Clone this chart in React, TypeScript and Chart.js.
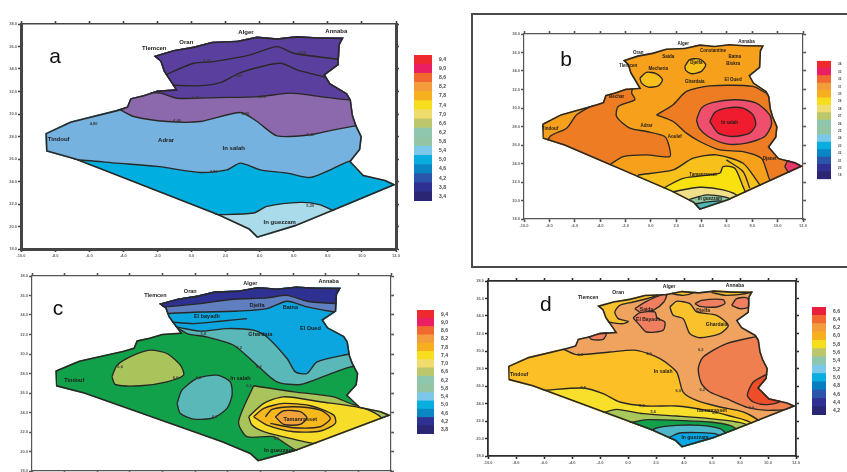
import React, { useEffect, useRef } from "react";
import { Chart, registerables } from "chart.js";

Chart.register(...registerables);

type Pt = [number, number];
type Lbl = [string, number, number];

// ---- shared axes
const lonMin = -10, lonMax = 12, latMin = 18, latMax = 38;

// ---- country outline (lon, lat)
const outline: Pt[] = [
  [-2.22, 35.16], [-1.04, 35.69], [0.13, 35.99], [1.21, 36.43], [2.67, 36.52], [3.85, 36.88], [5.02, 36.73],
  [6.19, 36.93], [7.37, 36.82], [8.93, 36.79], [8.7, 36.14], [8.64, 34.36], [7.85, 33.47], [8.15, 32.73],
  [9.13, 31.85], [9.36, 31.25], [9.48, 29.92], [9.67, 29.04], [10, 28], [9.91, 26.82], [9.36, 25.78],
  [10.1, 24.6], [11.37, 24.15], [12, 23.71], [8.34, 21.4], [6.09, 20.01], [3.85, 18.98], [3.36, 19.72],
  [1.6, 20.96], [-6.81, 25.93], [-8.53, 26.67], [-8.57, 28.3], [-7.11, 29.33], [-4.37, 30.37], [-3.78, 30.66],
  [-3.59, 31.4], [-2.8, 31.7], [-2.02, 32.08], [-0.95, 32.2], [-1.63, 33.77], [-1.83, 34.66], [-2.22, 35.16],
];

// ---- palette
const scale16 = ["#ee2a2e", "#e91e63", "#f2692f", "#f39c3c", "#f6b01f", "#f6de1e", "#f0dc6e", "#bcc76c", "#8fc6ae", "#93c5a5", "#7cc8ea", "#08aee0", "#0a86c4", "#2a55a8", "#2e3192", "#2b2673"];
const scale15 = ["#ee2a2e", "#e91e63", "#f2692f", "#f39c3c", "#f6b01f", "#f6de1e", "#f0dc6e", "#bcc76c", "#8fc6ae", "#93c5a5", "#7cc8ea", "#08aee0", "#0a86c4", "#2e3192", "#2b2673"];
const scale13 = ["#e8203c", "#f2692f", "#f39c3c", "#f6b01f", "#f6de1e", "#bcc76c", "#8fc6ae", "#7cc8ea", "#08aee0", "#0a7cc0", "#2a55a8", "#2e3192", "#2b2673"];

// ---- colour-bar tick labels
const barLabelsA = ["9,4", "9,0", "8,6", "8,2", "7,8", "7,4", "7,0", "6,6", "6,2", "5,8", "5,4", "5,0", "4,6", "4,2", "3,8", "3,4"];
const barLabelsB = ["34", "33", "32", "31", "30", "29", "28", "27", "26", "25", "24", "23", "22", "21", "20", "19"];
const barLabelsC = ["9,4", "9,0", "8,6", "8,2", "7,8", "7,4", "7,0", "6,6", "6,2", "5,8", "5,4", "5,0", "4,6", "4,2", "3,8"];
const barLabelsD = ["6,6", "6,4", "6,2", "6,0", "5,8", "5,6", "5,4", "5,2", "5,0", "4,8", "4,6", "4,4", "4,2"];

// ---- panel a contours
const aLight: Pt[] = [[-10, 25.93], [-6.81, 25.93], [-4.37, 25.63], [-2.02, 25.34], [0.52, 24.8], [2.09, 25.04], [2.87, 25.63], [4.04, 25.04], [5.61, 24.75], [6.97, 24.36], [8.15, 25.04], [9.36, 25.84], [12, 25.84], [12, 38], [-10, 38]];
const aPurple: Pt[] = [[-5, 31], [-4.17, 30.37], [-3.39, 29.78], [-1.43, 29.33], [0.52, 29.33], [2.87, 30.13], [3.85, 29.33], [5.02, 28.06], [6.97, 28.15], [8.34, 28.59], [9.71, 28.95], [12, 28.95], [12, 38], [-5, 38]];
const aDeep: Pt[] = [[-4, 32], [-1.83, 31.85], [-0.85, 31.4], [1.5, 31.46], [4.04, 31.55], [5.8, 31.85], [7.56, 31.55], [9.36, 31.25], [12, 31.25], [12, 38], [-4, 38]];
const aPale: Pt[] = [[0, 21.05], [1.6, 21.05], [3.65, 21.2], [4.43, 21.79], [6.39, 22.14], [7.56, 21.93], [8.34, 21.4], [10, 20.5], [10, 18], [0, 18]];
const aLine1: Pt[] = [[-1.53, 33.47], [0.13, 34.51], [1.3, 34.66], [3.45, 35.25], [5.02, 35.99], [6, 35.4], [8.64, 34.86]];
const aLine2: Pt[] = [[-1.53, 32.59], [0.33, 32.5], [1.69, 32.79], [2.87, 33.68], [5.21, 34.51], [6.19, 33.92], [7.85, 33.27]];
const aLabels: Lbl[] = [["Tlemcen", -2.18, 35.81], ["Oran", -0.3, 36.34], ["Alger", 3.2, 37.23], ["Annaba", 8.5, 37.35], ["Tindouf", -7.79, 27.79], ["Adrar", -1.49, 27.7], ["In salah", 2.48, 26.96], ["In guezzam", 5.18, 20.34]];
const aValues: Lbl[] = [["3,20", 0.91, 34.75], ["3,60", 2.77, 33.41], ["3,60", 6.49, 35.4], ["4,00", 0.23, 31.4], ["4,00", 4.14, 31.55], ["4,40", -0.85, 29.42], ["4,40", 3.16, 30.01], ["4,40", 6.97, 28.18], ["4,80", -5.74, 29.12], ["4,80", 1.3, 24.89], ["5,20", 6.97, 21.85]];

// ---- panel b contours
const bWest: Pt[] = [[-1.52, 31.61], [-1.26, 30.89], [-2.57, 30.17], [-2.7, 29.08], [-1.65, 27.82], [-0.34, 27.46], [1.1, 26.92], [1.45, 25.83], [1.5, 24.75], [-0.34, 24.93], [-2.18, 24.75], [-3.23, 23.85], [-5, 22], [-8.2, 25.5], [-7.95, 26.92], [-6.64, 27.82], [-5.85, 29.26], [-4.54, 30.35], [-3.75, 31.25], [-3.23, 31.9], [-1.5, 32.2]];
const bEast: Pt[] = [[0.45, 29.26], [1.76, 30.35], [2.81, 31.79], [4.65, 32.4], [8.06, 32.33], [9.37, 31.43], [12, 31], [12, 23], [9.51, 22.04], [9.11, 23.31], [8.72, 24.57], [7.27, 25.29], [5.44, 25.47], [3.86, 26.38], [2.81, 27.28], [1.76, 28.54]];
const bGold: Pt[] = [[-1, 22.77], [1.76, 23.31], [3.34, 24.57], [5.17, 24.93], [7.27, 24.03], [8.32, 22.22], [8.72, 21.32], [9, 18], [0, 18], [-1, 20]];
const bYellow: Pt[] = [[0.97, 21.32], [2.55, 22.4], [5.44, 22.95], [5.7, 23.67], [6.62, 23.49], [7.27, 21.5], [7.54, 20.6], [8, 18], [1, 18]];
const bPale: Pt[] = [[1.76, 20.96], [3.86, 21.43], [5.7, 21.14], [6.88, 20.42], [7, 18], [2, 18]];
const bSage: Pt[] = [[3.07, 20.13], [4.39, 20.6], [5.7, 20.42], [6.36, 20.06], [6.4, 18], [3, 18]];
const bTeal: Pt[] = [[3.47, 19.62], [4.65, 19.88], [5.7, 19.88], [6, 18], [3.4, 18]];
const bPink: Pt[] = [[3.6, 28.72], [3.99, 29.99], [4.91, 30.6], [6.62, 30.89], [8.32, 30.53], [9.37, 29.26], [9.51, 28.18], [8.98, 26.92], [7.54, 26.2], [5.96, 26.12], [4.52, 26.92], [3.81, 27.82]];
const bRed: Pt[] = [[4.65, 28.54], [5.04, 29.52], [5.96, 29.99], [7.27, 29.99], [8.06, 29.26], [8.27, 28.18], [7.8, 27.28], [6.49, 26.92], [5.31, 27.28]];
const bTip: Pt[] = [[10.56, 23.67], [10.82, 24.32], [12, 24.5], [12, 23.7], [10.95, 22.95]];
const bCircle1: Pt[] = [[-0.86, 33.23], [-0.34, 33.85], [0.45, 33.7], [0.92, 33.05], [0.58, 32.4], [-0.21, 32.26], [-0.73, 32.69]];
const bCircle2: Pt[] = [[2.68, 34.5], [3.07, 35.22], [3.86, 35.29], [4.33, 34.68], [3.99, 33.96], [3.21, 33.7], [2.76, 34.07]];
const bLine: Pt[] = [[5.96, 24.39], [7.27, 23.13], [7.8, 21.32]];
const bLabels: Lbl[] = [["Alger", 2.55, 36.95], ["Annaba", 7.54, 37.13], ["Oran", -1, 35.94], ["Tlemcen", -1.78, 34.57], ["Saida", 1.37, 35.58], ["Mecheria", 0.58, 34.21], ["Djelfa", 3.6, 34.93], ["Constantine", 4.91, 36.23], ["Batna", 6.62, 35.58], ["Biskra", 6.49, 34.75], ["Ghardaia", 3.47, 32.87], ["El Oued", 6.49, 33.05], ["Bechar", -2.7, 31.25], ["Tindouf", -7.95, 27.71], ["Adrar", -0.34, 28.07], ["Aoulef", 1.89, 26.84], ["In salah", 6.22, 28.36], ["Tamanrasset", 4.12, 22.77], ["Djanet", 9.37, 24.5], ["In guezzam", 4.65, 20.17]];
const bValues: Lbl[] = [];

// ---- panel c contours
const cTealBand: Pt[] = [[-3, 33], [-1.22, 32.78], [-0.5, 32.1], [0.72, 31.75], [2.36, 30.9], [3.79, 28.85], [5.01, 27.15], [6.44, 26.87], [8.08, 27.83], [9.3, 28.58], [10.02, 28.79], [12, 28.8], [12, 38], [-3, 38]];
const cCyanBand: Pt[] = [[-3, 33], [-1.22, 32.78], [0.32, 32.34], [1.95, 32.61], [3.58, 32.44], [4.4, 31.75], [5.63, 29.54], [6.14, 28.17], [6.85, 28], [7.47, 29.19], [9.3, 29.95], [10.02, 30.15], [12, 30.15], [12, 38], [-3, 38]];
const cSlateBand: Pt[] = [[-3, 34.14], [-1.83, 34.14], [0.32, 34.31], [2.36, 34.38], [4.4, 34.66], [5.63, 35.41], [6.85, 34.83], [8.59, 34.31], [10, 34.31], [10, 38], [-3, 38]];
const cNavyBand: Pt[] = [[-3, 34.83], [-1.93, 34.83], [0.32, 35.17], [2.36, 35.62], [4.4, 35.75], [5.63, 36.02], [6.85, 35.41], [8.59, 35.17], [10, 35.17], [10, 38], [-3, 38]];
const cOliveLobe: Pt[] = [[-5.1, 27.66], [-4.79, 28.85], [-3.77, 29.88], [-2.75, 30.39], [-1.73, 30.05], [-0.91, 28.85], [-0.71, 27.83], [-1.73, 27.15], [-3.36, 26.74], [-4.89, 26.87]];
const cTealLobe: Pt[] = [[-1.11, 24.93], [-0.81, 26.29], [0.11, 27.49], [1.34, 27.83], [2.15, 27.15], [2.26, 25.78], [1.95, 24.42], [1.13, 23.46], [-0.09, 23.32], [-0.91, 23.9]];
const cOliveEast: Pt[] = [[3.58, 26.74], [6.04, 26.12], [8.49, 25.61], [9.81, 24.76], [12, 24.76], [12, 23.7], [6.55, 19.98], [4.81, 21.52], [3.18, 21.52], [2.66, 23.05]];
const cYellow: Pt[] = [[3.28, 23.56], [4.2, 24.93], [5.42, 25.61], [7.67, 25.1], [10.32, 24.42], [11.35, 23.56], [11.5, 22.5], [7.57, 20.83], [5.83, 21.34], [4.2, 22.03], [3.48, 22.71]];
const cGold: Pt[] = [[3.58, 23.56], [4.2, 24.42], [5.42, 24.93], [7.06, 24.69], [8.49, 23.73], [8.59, 22.88], [7.67, 22.1], [6.04, 22.03], [4.4, 22.71]];
const cCore: Pt[] = [[4.91, 23.56], [5.42, 24.18], [6.44, 24.08], [6.85, 23.46], [6.44, 22.78], [5.42, 22.78]];
const cRing: Pt[] = [[4.3, 23.56], [4.71, 24.31], [6.04, 24.59], [7.67, 24.25], [8.28, 23.39], [7.67, 22.54], [6.04, 22.44], [4.61, 22.88]];
const cLine: Pt[] = [[-1.52, 33.29], [-0.09, 33.12], [1.54, 33.36], [3.18, 33.63]];
const cLabels: Lbl[] = [["Tlemcen", -2.44, 36.02], ["Oran", -0.3, 36.46], ["Alger", 3.38, 37.28], ["Annaba", 8.18, 37.39], ["El bayadh", 0.72, 33.87], ["Djelfa", 3.79, 35], ["Batna", 5.83, 34.76], ["Ghardaia", 3.99, 31.99], ["El Oued", 7.06, 32.61], ["Tindouf", -7.41, 27.25], ["In salah", 2.77, 27.49], ["Tamanrasset", 6.44, 23.29], ["In guezzam", 5.12, 20.08]];
const cValues: Lbl[] = [["5,8", 0.5, 32.1], ["6,2", 2.7, 30.6], ["6,2", 3.9, 28.7], ["6,6", -4.6, 28.7], ["6,6", -1.2, 27.5], ["6,2", 0.2, 27.6], ["6,2", 1.2, 23.6], ["6,6", 3.3, 26.7], ["6,6", 5, 21.3]];

// ---- panel d contours
const dGoldBig: Pt[] = [[-10, 30.34], [-4.88, 30.34], [-3.68, 29.58], [-1.3, 29.89], [0.61, 30.08], [2.28, 29.12], [3.47, 27.6], [3.94, 25.31], [4.9, 24.36], [6.57, 23.6], [8.23, 23.03], [9.54, 21.58], [9, 18], [-10, 18]];
const dYellow: Pt[] = [[-8, 25.5], [-6.19, 25.5], [-3.21, 25.77], [-1.78, 25.12], [-0.59, 24.17], [1.32, 23.71], [3.47, 23.71], [5.61, 23.22], [7.28, 22.57], [8.95, 21.58], [9, 18], [-8, 18]];
const dOlive: Pt[] = [[-3, 23.2], [-1.9, 22.95], [-0.82, 23.33], [1.08, 22.84], [3.47, 22.57], [5.85, 22.27], [7.76, 21.89], [8.59, 21.43], [9, 18], [-3, 18]];
const dGreen: Pt[] = [[-1, 21.7], [0.13, 21.81], [1.32, 22.15], [3.47, 22.08], [5.85, 21.89], [7.28, 21.5], [7.88, 20.82], [8, 18], [-1, 18]];
const dTeal: Pt[] = [[1.44, 20.67], [2.04, 21.2], [3.47, 21.5], [5.14, 21.5], [6.57, 21.12], [7.04, 20.44], [7, 18], [1.4, 18]];
const dCyan: Pt[] = [[2.99, 20.17], [3.71, 20.63], [5.14, 20.67], [6.21, 20.55], [6.8, 19.98], [6.8, 18], [3, 18]];
const dCoral: Pt[] = [[9.31, 31.71], [7.04, 30.84], [5.37, 29.31], [5.02, 27.98], [5.25, 26.27], [5.85, 25.31], [7.04, 24.55], [8.59, 23.52], [10.14, 23.22], [11.93, 23.71], [12, 32]];
const dRed: Pt[] = [[9.85, 27.3], [8.95, 26.46], [8.52, 24.93], [8.95, 24.17], [9.9, 23.87], [10.86, 24.25], [9.9, 25.5], [10.5, 27.3]];
const dGoldNW: Pt[] = [[-3, 36], [-1, 37], [2, 37.2], [2.04, 36.36], [0.37, 35.6], [-0.59, 35.22], [-0.94, 34.46], [-0.7, 33.7], [0.01, 33.39], [-0.35, 33.12], [-1.54, 33.31], [-3, 33.3]];
const dGoldMid: Pt[] = [[2.99, 35.03], [3.47, 35.68], [4.42, 35.41], [4.9, 34.46], [6.33, 34.08], [7.16, 32.93], [6.57, 31.98], [5.14, 31.52], [4.42, 31.98], [3.94, 33.7], [3.23, 34.08]];
const dStrip1: Pt[] = [[3.11, 36.55], [3.5, 37.2], [5.02, 37.2], [4.78, 36.74], [3.94, 36.36]];
const dStrip2: Pt[] = [[5.97, 36.67], [6.3, 37.2], [9.1, 37.2], [8.71, 36.67], [7.04, 36.36]];
const dBlob1: Pt[] = [[0.49, 34.84], [1.32, 35.68], [2.75, 36.55], [2.56, 35.6], [1.8, 34.65], [0.96, 34.38]];
const dBlob2: Pt[] = [[0.37, 33.77], [0.85, 34.38], [1.92, 34.46], [2.08, 33.77], [2.63, 33.31], [2.51, 32.36], [1.32, 32.17], [0.85, 32.93]];
const dBlob3: Pt[] = [[4.78, 35.41], [5.25, 35.79], [6.8, 35.87], [6.92, 35.41], [6.33, 35.03], [5.14, 35.1]];
const dBlob4: Pt[] = [[7.4, 35.22], [7.76, 35.98], [8.52, 36.06], [8.66, 35.03], [7.99, 34.84]];
const dBlob5: Pt[] = [[-2.85, 31.79], [-2.49, 32.1], [-1.54, 32.1], [-1.78, 31.33], [-2.61, 31.33]];
const dLabels: Lbl[] = [["Tlemcen", -2.85, 36.1], ["Oran", -0.7, 36.63], ["Alger", 2.94, 37.31], ["Annaba", 7.64, 37.5], ["Saida", 1.32, 34.76], ["El Bayadh", 1.44, 33.62], ["Djelfa", 5.37, 34.65], ["Ghardaia", 6.33, 33.01], ["Tindouf", -7.78, 27.3], ["In salah", 2.51, 27.6], ["Tamanrasset", 5.97, 23.14], ["In guezzam", 4.78, 20.1]];
const dValues: Lbl[] = [["6,0", -3.4, 29.6], ["6,0", 1.5, 29.7], ["6,0", 3.6, 25.4], ["5,8", -3.2, 25.8], ["5,8", 1.0, 23.7], ["5,6", 1.8, 23.0], ["5,6", 6.2, 22.9], ["6,2", 5.2, 30.1], ["6,2", 5.3, 25.6], ["6,4", 8.8, 23.5]];

type Layer = { pts: Pt[]; color?: string };
type Panel = {
  letter: Lbl; base: string; layers: Layer[]; cities: Lbl[]; values: Lbl[]; cityFont: number;
  left: number; right: number; top: number; bottom: number; frame: number; top2: number; frameColor: string;
  bar: { colors: string[]; labels: string[]; left: number; right: number; top: number; bottom: number; font: number };
};

const panels: Panel[] = [
  {
    letter: ["a", -8, 35.07], base: "#00aee0", cities: aLabels, values: aValues, cityFont: 6, frameColor: "#454545",
    left: 21, right: 396, top: 24, bottom: 249, frame: 3, top2: 1.6,
    layers: [{ pts: aLight, color: "#76b2df" }, { pts: aPurple, color: "#8c68ad" }, { pts: aDeep, color: "#5b3f9f" }, { pts: aPale, color: "#a9dbea" }, { pts: aLine1 }, { pts: aLine2 }],
    bar: { colors: scale16, labels: barLabelsA, left: 414, right: 432, top: 45, bottom: 211, font: 5 },
  },
  {
    letter: ["b", -6.69, 35.19], base: "#f7a01c", cities: bLabels, values: bValues, cityFont: 4.5, frameColor: "#555",
    left: 524, right: 803, top: 34, bottom: 219, frame: 1.2, top2: 1.2,
    layers: [{ pts: bWest, color: "#ee7c22" }, { pts: bEast, color: "#ee7c22" }, { pts: bGold, color: "#f8c01a" }, { pts: bLine }, { pts: bYellow, color: "#f9e10f" }, { pts: bPale, color: "#f1e08a" }, { pts: bSage, color: "#8ec49e" }, { pts: bTeal, color: "#4fb9b5" }, { pts: bPink, color: "#ef4f6c" }, { pts: bRed, color: "#ee1c2e" }, { pts: bTip, color: "#e8396a" }, { pts: bCircle1, color: "#f8c01a" }, { pts: bCircle2, color: "#f8c01a" }],
    bar: { colors: scale16, labels: barLabelsB, left: 817, right: 831, top: 52, bottom: 188, font: 3 },
  },
  {
    letter: ["c", -8.41, 34.6], base: "#12a14b", cities: cLabels, values: cValues, cityFont: 5.5, frameColor: "#555",
    left: 32, right: 391, top: 276, bottom: 471, frame: 1.2, top2: 1.2,
    layers: [{ pts: cTealBand, color: "#5bb8b8" }, { pts: cCyanBand, color: "#0ba5e0" }, { pts: cLine }, { pts: cSlateBand, color: "#5f7fc0" }, { pts: cNavyBand, color: "#2e3192" }, { pts: cOliveLobe, color: "#a8c45a" }, { pts: cTealLobe, color: "#5bb8b8" }, { pts: cOliveEast, color: "#a8c45a" }, { pts: cYellow, color: "#f7dc2a" }, { pts: cGold, color: "#f7b81e" }, { pts: cRing }, { pts: cCore, color: "#f2a23a" }],
    bar: { colors: scale15, labels: barLabelsC, left: 417, right: 434, top: 300, bottom: 444, font: 5 },
  },
  {
    letter: ["d", -5.86, 35.26], base: "#efa35f", cities: dLabels, values: dValues, cityFont: 5, frameColor: "#2c2c2c",
    left: 488, right: 796, top: 281, bottom: 456, frame: 1.8, top2: 1.8,
    layers: [{ pts: dGoldBig, color: "#fcbf26" }, { pts: dYellow, color: "#f7df2a" }, { pts: dOlive, color: "#a9c75a" }, { pts: dGreen, color: "#12a14b" }, { pts: dTeal, color: "#4fb8c8" }, { pts: dCyan, color: "#0aa8e6" }, { pts: dCoral, color: "#f07f50" }, { pts: dRed, color: "#ee4d2a" }, { pts: dGoldNW, color: "#f9c22c" }, { pts: dGoldMid, color: "#f9c22c" }, { pts: dStrip1, color: "#f9c22c" }, { pts: dStrip2, color: "#f9c22c" }, { pts: dBlob1, color: "#f07f60" }, { pts: dBlob2, color: "#f07f60" }, { pts: dBlob3, color: "#f07f60" }, { pts: dBlob4, color: "#f07f60" }, { pts: dBlob5, color: "#f07f60" }],
    bar: { colors: scale13, labels: barLabelsD, left: 812, right: 826, top: 297, bottom: 425, font: 5 },
  },
];

const MARGIN = 16;
const LINE = "#2a2824";
const FONT = "'Liberation Sans', sans-serif";
const toXY = (pts: Pt[]) => pts.map(([x, y]) => ({ x, y }));
const close = (pts: Pt[]) => [...pts, pts[0]];

function mapPlugin(p: Panel) {
  return {
    id: "countryClip",
    beforeDatasetsDraw(chart: any) {
      const { ctx, scales } = chart;
      ctx.save();
      ctx.beginPath();
      outline.forEach(([x, y], i) => {
        const px = scales.x.getPixelForValue(x), py = scales.y.getPixelForValue(y);
        if (i === 0) ctx.moveTo(px, py); else ctx.lineTo(px, py);
      });
      ctx.closePath();
      ctx.clip();
    },
    afterDatasetsDraw(chart: any) {
      const { ctx, scales } = chart;
      ctx.restore();
      ctx.save();
      ctx.textAlign = "center";
      ctx.textBaseline = "middle";
      ctx.fillStyle = "#1d1b18";
      ctx.font = `bold ${p.cityFont}px ${FONT}`;
      p.cities.forEach(([t, x, y]) => ctx.fillText(t, scales.x.getPixelForValue(x), scales.y.getPixelForValue(y)));
      ctx.font = `bold 4px ${FONT}`;
      ctx.fillStyle = "#3a3835";
      p.values.forEach(([t, x, y]) => ctx.fillText(t, scales.x.getPixelForValue(x), scales.y.getPixelForValue(y)));
      ctx.fillStyle = "#111";
      ctx.font = `21px ${FONT}`;
      ctx.fillText(p.letter[0], scales.x.getPixelForValue(p.letter[1]), scales.y.getPixelForValue(p.letter[2]));
      ctx.restore();
    },
  };
}

function axis(position: string, axisName: string, min: number, max: number, step: number, width: number, color: string, showLabels: boolean, size: number, fmt: (v: number) => string) {
  return {
    type: "linear", axis: axisName, position, min, max,
    ticks: { stepSize: step, display: showLabels, font: { size: 4, family: FONT, weight: "bold" }, color: "#666", padding: 1, maxRotation: 0, autoSkip: false, callback: (v: any) => fmt(Number(v)) },
    grid: { drawOnChartArea: false, drawTicks: true, tickLength: 3, tickWidth: 1.6, tickColor: color },
    border: { display: true, color, width },
    afterFit(s: any) {
      if (axisName === "x") s.height = size; else s.width = size;
    },
  };
}

function MapPanel({ p }: { p: Panel }) {
  const ref = useRef<HTMLCanvasElement>(null);
  useEffect(() => {
    const datasets: any[] = [];
    const shape = (pts: Pt[], color?: string, borderWidth = 1.35) => ({
      data: toXY(pts), showLine: true, pointRadius: 0, tension: 0.25, borderWidth, borderColor: LINE,
      fill: color ? "shape" : false, backgroundColor: color ?? "transparent",
    });
    datasets.push(shape(close(outline), p.base, 0));
    p.layers.forEach((l) => datasets.push(shape(l.color ? close(l.pts) : l.pts, l.color)));
    datasets.push({ ...shape(outline, undefined, 3.2), tension: 0 });
    datasets.reverse();
    const chart = new Chart(ref.current!, {
      type: "scatter",
      data: { datasets },
      plugins: [mapPlugin(p)],
      options: {
        animation: false, responsive: false,
        layout: { padding: 0 },
        plugins: { legend: { display: false }, tooltip: { enabled: false }, title: { display: false } },
        scales: {
          x: axis("bottom", "x", lonMin, lonMax, 2, p.frame, p.frameColor, true, MARGIN, (v) => v.toFixed(1)),
          x2: axis("top", "x", lonMin, lonMax, 2, p.top2, p.frameColor, false, MARGIN, () => ""),
          y: axis("left", "y", latMin, latMax, 2, p.frame, p.frameColor, true, MARGIN, (v) => v.toFixed(1)),
          y2: axis("right", "y", latMin, latMax, 2, p.frame, p.frameColor, false, MARGIN, () => ""),
        },
      } as any,
    } as any);
    return () => chart.destroy();
  }, [p]);
  return (
    <canvas
      ref={ref}
      width={p.right - p.left + MARGIN * 2}
      height={p.bottom - p.top + MARGIN * 2}
      style={{ position: "absolute", left: p.left - MARGIN, top: p.top - MARGIN, display: "block" }}
    />
  );
}

function ColorBar({ p }: { p: Panel }) {
  const ref = useRef<HTMLCanvasElement>(null);
  const b = p.bar;
  const LABEL_W = 20;
  useEffect(() => {
    const chart = new Chart(ref.current!, {
      type: "bar",
      data: {
        labels: b.labels,
        datasets: [{ data: b.labels.map(() => 1), backgroundColor: b.colors, borderWidth: 0, barPercentage: 1, categoryPercentage: 1 }],
      },
      options: {
        indexAxis: "y", animation: false, responsive: false,
        layout: { padding: 0 },
        plugins: { legend: { display: false }, tooltip: { enabled: false } },
        scales: {
          x: { display: false, min: 0, max: 1 },
          y: {
            position: "right",
            grid: { display: false, drawTicks: false },
            border: { display: false },
            ticks: { autoSkip: false, padding: 7, font: { size: b.font, family: FONT, weight: "bold" }, color: "#444" },
            afterFit(s: any) { s.width = LABEL_W; },
          },
        },
      } as any,
    } as any);
    return () => chart.destroy();
  }, [p]);
  return (
    <canvas
      ref={ref}
      width={b.right - b.left + LABEL_W}
      height={b.bottom - b.top}
      style={{ position: "absolute", left: b.left, top: b.top, display: "block" }}
    />
  );
}

export default function App() {
  return (
    <div style={{ position: "fixed", left: 0, top: 0, width: 847, height: 472, overflow: "hidden", background: "#fff" }}>
      <div style={{ position: "absolute", left: 0, top: 0, width: 847, height: 472, filter: "blur(0.75px)" }}>
        <div style={{ position: "absolute", left: 471, top: 13, width: 420, height: 251, border: "2px solid #4a4a4a", boxSizing: "content-box" }} />
        {panels.map((p) => (
          <React.Fragment key={p.letter[0]}>
            <MapPanel p={p} />
            <ColorBar p={p} />
          </React.Fragment>
        ))}
      </div>
    </div>
  );
}
